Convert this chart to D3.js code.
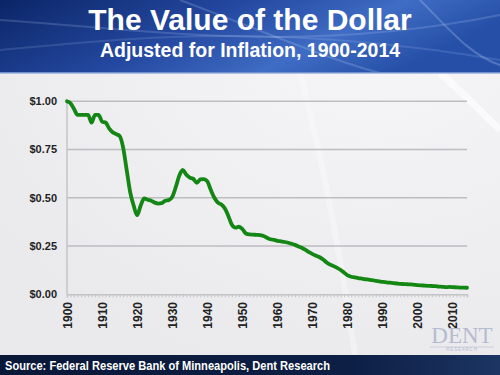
<!DOCTYPE html>
<html>
<head>
<meta charset="utf-8">
<script src="https://cdn.jsdelivr.net/npm/d3@7"></script>
<style>
  body { margin: 0; }
  svg { display: block; font-family: "Liberation Sans", Arial, sans-serif; }
</style>
</head>
<body>
<svg width="500" height="375"></svg>
<script>
// value of 1900 dollar, one value per year 1900..2014
const years = d3.range(1900, 2015);
const dollarValue = [
  1.00, 0.99, 0.96, 0.93, 0.93, 0.93, 0.93, 0.89, 0.93, 0.93,
  0.895, 0.89, 0.86, 0.84, 0.83, 0.82, 0.76, 0.645, 0.53, 0.46,
  0.41, 0.46, 0.497, 0.49, 0.485, 0.475, 0.47, 0.472, 0.485, 0.488,
  0.505, 0.555, 0.615, 0.644, 0.62, 0.605, 0.598, 0.578, 0.595, 0.597,
  0.585, 0.54, 0.50, 0.475, 0.465, 0.445, 0.405, 0.36, 0.345, 0.35,
  0.338, 0.315, 0.31, 0.309, 0.308, 0.307, 0.302, 0.293, 0.285, 0.282,
  0.277, 0.274, 0.271, 0.267, 0.262, 0.256, 0.248, 0.24, 0.23, 0.218,
  0.208, 0.20, 0.192, 0.18, 0.165, 0.154, 0.146, 0.137, 0.126, 0.112,
  0.098, 0.091, 0.088, 0.084, 0.081, 0.078, 0.076, 0.073, 0.070, 0.067,
  0.064, 0.062, 0.060, 0.058, 0.056, 0.054, 0.053, 0.052, 0.051, 0.049,
  0.047, 0.046, 0.045, 0.044, 0.043, 0.042, 0.040, 0.039, 0.037, 0.038,
  0.037, 0.036, 0.035, 0.035, 0.034
];
const yTicks = [0, 0.25, 0.5, 0.75, 1];
const xTicks = [1900, 1910, 1920, 1930, 1940, 1950, 1960, 1970, 1980, 1990, 2000, 2010];

const svg = d3.select('svg');
const defs = svg.append('defs');

// backgrounds
const bodyGrad = defs.append('radialGradient').attr('id', 'bodyGrad')
    .attr('cx', '0.75').attr('cy', '0.1').attr('r', '0.9');
bodyGrad.append('stop').attr('offset', '0%').attr('stop-color', '#f6f6f8');
bodyGrad.append('stop').attr('offset', '100%').attr('stop-color', '#eaeaed');
svg.append('rect').attr('width', 500).attr('height', 375).attr('fill', 'url(#bodyGrad)');

// soft light streaks on body
svg.append('path')
    .attr('d', 'M300,73 C320,150 340,250 355,355')
    .attr('stroke', '#fff').attr('stroke-width', 6).attr('fill', 'none').attr('opacity', 0.3);
svg.append('path')
    .attr('d', 'M440,73 C465,95 485,115 500,130')
    .attr('stroke', '#fff').attr('stroke-width', 7).attr('fill', 'none').attr('opacity', 0.6);

const headGrad = defs.append('linearGradient').attr('id', 'headGrad')
    .attr('x1', 0).attr('x2', 1).attr('y1', 0).attr('y2', 0.3);
headGrad.append('stop').attr('offset', '0%').attr('stop-color', '#0b2566');
headGrad.append('stop').attr('offset', '45%').attr('stop-color', '#2448a0');
headGrad.append('stop').attr('offset', '75%').attr('stop-color', '#3f6cc4');
headGrad.append('stop').attr('offset', '100%').attr('stop-color', '#2650a8');
svg.append('rect').attr('width', 500).attr('height', 73).attr('fill', 'url(#headGrad)');
// streaks in the banner
[['M0,20 C150,30 300,55 500,15', 0.18], ['M0,50 C120,40 260,20 500,60', 0.14],
 ['M180,0 C260,30 330,60 380,73', 0.2], ['M420,0 C450,30 470,55 500,65', 0.25]]
  .forEach(([d, o]) => svg.append('path').attr('d', d).attr('stroke', '#cfe0ff')
    .attr('stroke-width', 2).attr('fill', 'none').attr('opacity', o));
svg.append('rect').attr('y', 72).attr('width', 500).attr('height', 1.5).attr('fill', '#6f8fd0');

svg.append('text').attr('x', 250).attr('y', 30).attr('text-anchor', 'middle')
    .attr('fill', '#fff').attr('font-weight', 'bold').attr('font-size', 30)
    .text('The Value of the Dollar');
svg.append('text').attr('x', 250).attr('y', 57).attr('text-anchor', 'middle')
    .attr('fill', '#fff').attr('font-weight', 'bold').attr('font-size', 19.5)
    .text('Adjusted for Inflation, 1900-2014');

// footer
const footGrad = defs.append('linearGradient').attr('id', 'footGrad');
footGrad.append('stop').attr('offset', '0%').attr('stop-color', '#0a1838');
footGrad.append('stop').attr('offset', '70%').attr('stop-color', '#0d1f45');
footGrad.append('stop').attr('offset', '100%').attr('stop-color', '#1c3563');
svg.append('rect').attr('y', 355).attr('width', 500).attr('height', 20).attr('fill', 'url(#footGrad)');
svg.append('text').attr('x', 5).attr('y', 369.5)
    .attr('fill', '#fff').attr('font-weight', 'bold').attr('font-size', 12.5)
    .attr('textLength', 325).attr('lengthAdjust', 'spacingAndGlyphs')
    .text('Source: Federal Reserve Bank of Minneapolis, Dent Research');

// chart
const x = d3.scaleLinear().domain([1900, 2014]).range([67, 467]);
const y = d3.scaleLinear().domain([0, 1]).range([294.3, 101.3]);

const g = svg.append('g');

g.selectAll('.grid').data(yTicks.filter(d => d > 0))
  .enter().append('line')
    .attr('x1', 67).attr('x2', 467)
    .attr('y1', d => y(d)).attr('y2', d => y(d))
    .attr('stroke', '#bdbdc0').attr('stroke-width', 1.5);

// left axis line
g.append('line')
    .attr('x1', 67).attr('x2', 67).attr('y1', y(1)).attr('y2', y(0))
    .attr('stroke', '#c4c4c7').attr('stroke-width', 1.5);

// bottom axis with minor ticks per year
const xAxis = d3.axisBottom(x)
    .tickValues(years)
    .tickSize(3)
    .tickFormat('');
const xAxisG = g.append('g').attr('transform', `translate(0,${y(0)})`).call(xAxis);
xAxisG.select('.domain').attr('stroke', '#c4c4c7').attr('stroke-width', 1.5);
xAxisG.selectAll('.tick line').attr('stroke', '#c4c4c7');

g.selectAll('.xlab').data(xTicks)
  .enter().append('text')
    .attr('transform', d => `translate(${x(d) + 4.5},302) rotate(-90)`)
    .attr('text-anchor', 'end')
    .attr('font-weight', 'bold').attr('font-size', 12).attr('fill', '#222')
    .text(d => d);

const dollar = d3.format('$.2f');
g.selectAll('.ylab').data(yTicks)
  .enter().append('text')
    .attr('x', 57).attr('y', d => y(d)).attr('dy', '0.35em')
    .attr('text-anchor', 'end')
    .attr('font-weight', 'bold').attr('font-size', 11).attr('fill', '#222')
    .text(dollar);

const line = d3.line()
    .x((d, i) => x(years[i]))
    .y(d => y(d))
    .curve(d3.curveMonotoneX);

g.append('path')
    .datum(dollarValue)
    .attr('d', line)
    .attr('fill', 'none')
    .attr('stroke', '#138613')
    .attr('stroke-width', 3.8)
    .attr('stroke-linejoin', 'round')
    .attr('stroke-linecap', 'round');

// watermark logo
const logo = svg.append('g').attr('opacity', 0.75);
logo.append('text').attr('x', 462).attr('y', 343).attr('text-anchor', 'middle')
    .attr('font-family', '"Liberation Serif", "DejaVu Serif", serif')
    .attr('font-size', 23).attr('fill', '#a3abc6').text('DENT');
logo.append('line').attr('x1', 430).attr('x2', 494).attr('y1', 347).attr('y2', 347)
    .attr('stroke', '#b8bdd2').attr('stroke-width', 0.8);
logo.append('text').attr('x', 462).attr('y', 351).attr('text-anchor', 'middle')
    .attr('font-size', 4.5).attr('fill', '#a3abc6').attr('letter-spacing', 0.8)
    .text('RESEARCH');
</script>
</body>
</html>
